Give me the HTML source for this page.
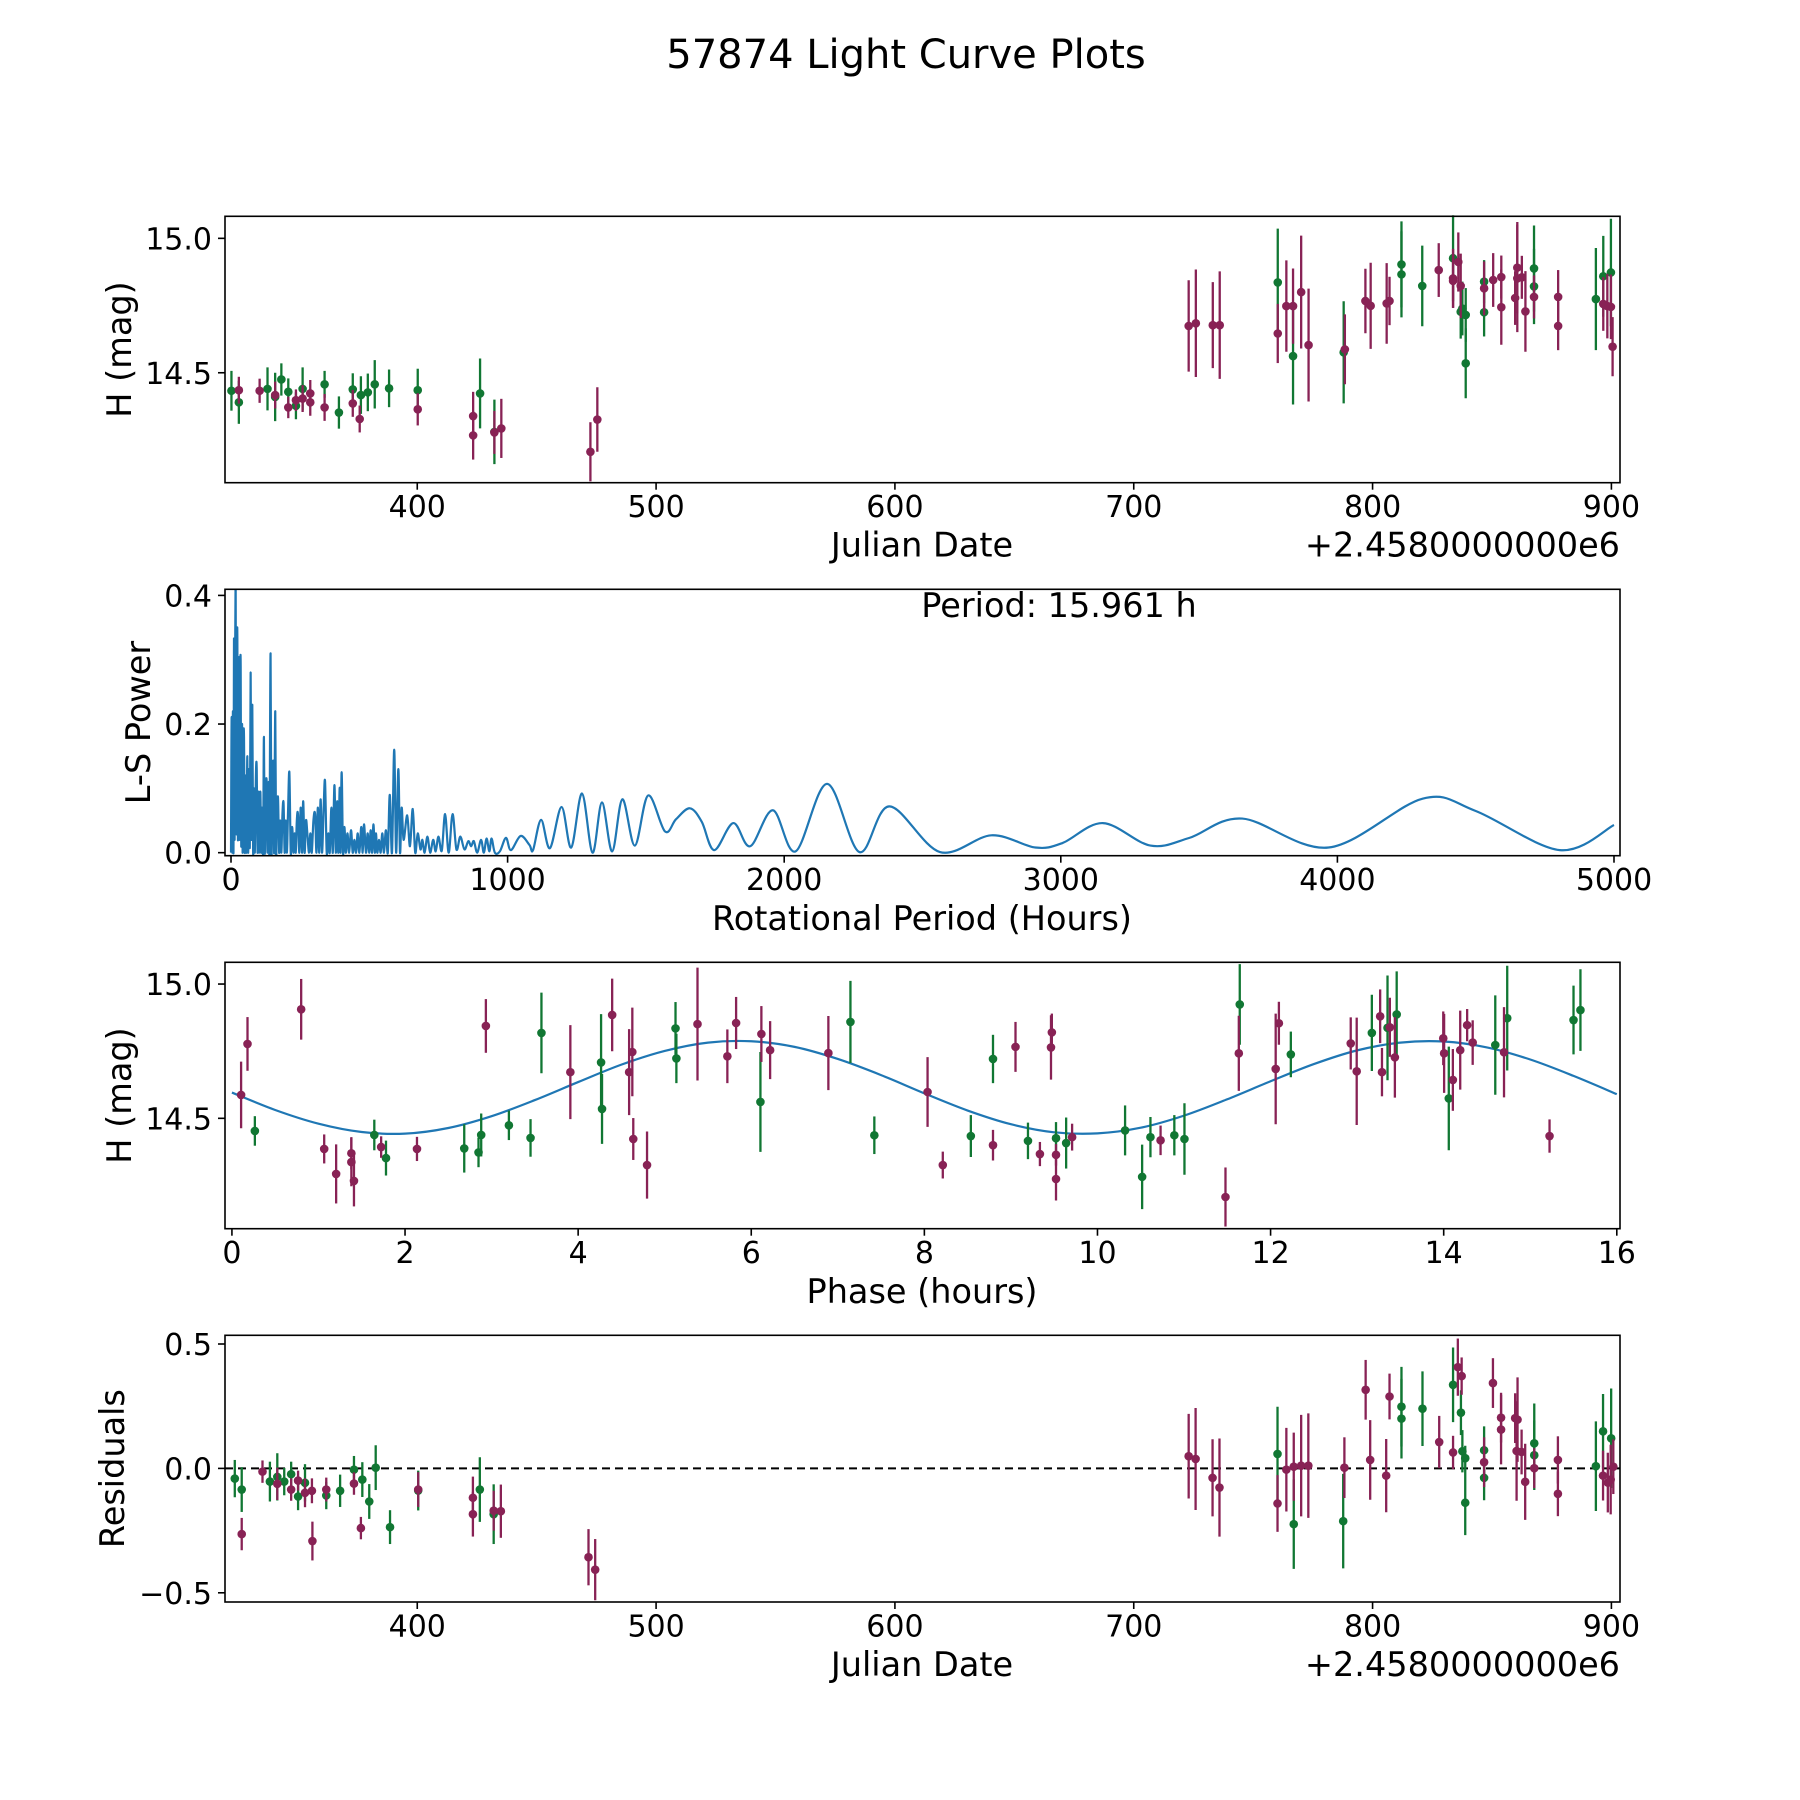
<!DOCTYPE html>
<html><head><meta charset="utf-8"><title>57874 Light Curve Plots</title>
<style>
html,body{margin:0;padding:0;background:#fff;}
svg{display:block;font-family:"DejaVu Sans","Liberation Sans",sans-serif;}
</style></head>
<body>
<svg id="fig" xmlns="http://www.w3.org/2000/svg" width="1800" height="1800" viewBox="0 0 1800 1800">
<rect x="0" y="0" width="1800" height="1800" fill="#fff"/>
<text x="906" y="68" font-size="40" text-anchor="middle">57874 Light Curve Plots</text>
</svg>
<script>
// ---------- Panel 1: light curve vs Julian Date ----------
const p1GreenDate=[322.2,325.3,337.3,340.5,343.1,346,349.2,352,361.2,367.2,373,376.4,379.3,382.2,388.2,400.2,426.3,432.3,760.3,766.7,787.9,812.1,812.1,820.8,833.7,837.6,836.9,839,839,846.7,846.7,867.6,867.6,893.5,896.6,899.8];
const p1GreenMag=[14.433,14.39,14.44,14.41,14.475,14.429,14.377,14.44,14.457,14.352,14.438,14.417,14.427,14.457,14.442,14.435,14.423,14.28,14.836,14.562,14.576,14.903,14.866,14.823,14.926,14.739,14.727,14.715,14.535,14.839,14.725,14.888,14.821,14.774,14.859,14.873];
const p1GreenErr=[.074,.08,.08,.09,.06,.05,.05,.08,.05,.06,.06,.07,.07,.09,.07,.08,.13,.12,.2,.18,.19,.16,.16,.15,.16,.1,.1,.1,.13,.08,.09,.16,.14,.19,.15,.2];
const p1MaroonDate=[325.3,334,340.5,346,349.2,352,355.2,355.2,361.2,373,375.9,400.2,423.4,423.4,432.3,435.2,472.5,475.4,723,726,733.1,736,760.3,763.9,766.7,770.1,773.2,788.4,797,799.2,805.9,807.1,827.7,833.7,833.7,835.9,836.9,846.7,850.5,853.9,853.9,859.7,860.6,860.6,862.5,864,867.6,877.7,877.7,896.6,898.3,899.8,900.5];
const p1MaroonMag=[14.435,14.433,14.417,14.371,14.398,14.404,14.423,14.39,14.371,14.386,14.328,14.364,14.339,14.267,14.278,14.293,14.206,14.326,14.674,14.684,14.677,14.677,14.646,14.748,14.748,14.8,14.603,14.587,14.767,14.749,14.758,14.767,14.882,14.851,14.842,14.912,14.823,14.814,14.845,14.856,14.744,14.778,14.891,14.851,14.855,14.728,14.782,14.782,14.674,14.756,14.748,14.745,14.597];
const p1MaroonErr=[.05,.045,.05,.04,.04,.05,.05,.05,.05,.05,.05,.06,.09,.09,.08,.11,.11,.12,.17,.2,.16,.2,.11,.17,.14,.21,.21,.13,.12,.16,.15,.09,.1,.11,.1,.11,.12,.1,.1,.08,.14,.1,.17,.2,.08,.15,.08,.1,.09,.1,.12,.12,.11];
const p1XTicks=[400,500,600,700,800,900];
const p1YTicks=[14.5,15.0];
const p1YTickLabels=["14.5","15.0"];

// ---------- Panel 2: Lomb-Scargle periodogram ----------
const lsPeriod=[
0,2.4,5,7,9,10.8,13,15,16.9,19,
21,23,25,27,29,31,33,35,37,40,
42,44,47,50,53,56,59,62,65,68,
71,74,77,80,83,86,90,93,96,99,
102,106,109,112,116,119,122,125,129,132,
136,139,143,146,149,153,156,160,163,166,
170,174,178,182,186,190,194,198,202,206,
211,216,221,226,230,234,238,242,247,252,
257,261,266,271,276,282,287,292,298,304,
309,314,319,324,329,335,340,346,352,357,
363,368,374,379,384,388,393,396,400,405,
410,415,421,427,434,440,446,452,458,464,
471,476,481,488,494,500,505,510,515,520,
524,529,535,541,547,553,560,567,574,582,
590,597,605,611,617,624,637,647,657,666,
675,685,692,700,710,720,731,740,750,762,
774,787,801,815,829,844,858,868,878,890,
904,914,924,934,942,954,972,994,1012,1047,
1079,1092,1121,1153,1195,1230,1269,1307,1341,1378,
1415,1460,1508,1569,1609,1659,1702,1747,1816,1877,
1959,2041,2155,2272,2380,2563,2749,2908,3006,3152,
3324,3465,3656,3968,4308,4499,4804,5000];
const lsPower=[
0,.211,0,.22,0,.333,.02,.3,.41,.03,
.28,.333,.02,.24,.29,.02,.25,.29,.01,.2,
0,.16,.18,0,.12,0,.15,0,.13,.01,
.28,.02,.23,0,.1,0,.12,.13,0,.095,
0,.095,0,.07,0,.18,0,.09,.11,0,
.11,0,.31,0,.09,.14,0,.22,0,.06,
.085,0,.05,0,.06,.077,0,.05,0,.06,
.125,0,.04,0,.03,0,.05,.06,0,.07,
0,.08,0,.05,.03,0,.03,0,.05,.06,
0,.07,0,.083,0,.07,.111,0,.03,0,
.07,0,.105,0,.08,0,.101,0,.125,0,
.04,0,.03,0,.035,0,.02,0,.03,0,
.04,0,.044,0,.03,0,.035,0,.044,0,
.03,0,.02,0,.03,0,.035,0,.09,0,
.16,0,.13,0,.07,.02,.058,.01,.068,0,
.03,.005,.02,0,.025,0,.02,.002,.025,.003,
.06,0,.06,.005,.025,.005,.018,.01,.018,0,
.02,0,.022,.002,.022,0,.002,.023,.004,.026,
.012,.004,.051,.007,.071,.008,.092,0,.078,.002,
.083,.011,.089,.033,.052,.069,.048,.004,.046,.01,
.066,.002,.107,.001,.072,.001,.027,.008,.015,.046,
.011,.023,.053,.008,.084,.065,.004,.043];
const p2XTicks=[0,1000,2000,3000,4000,5000];
const p2YTicks=[0.0,0.2,0.4];
const p2YTickLabels=["0.0","0.2","0.4"];
const bestPeriodLabel=["Period: 15.961 h"];

// ---------- Panel 3: phased light curve ----------
const p3GreenPhase=[0.265,1.645,1.78,2.684,2.849,2.88,3.2,3.45,3.576,4.265,4.276,5.125,5.135,6.106,7.146,7.422,8.537,8.793,9.197,9.521,9.638,10.319,10.516,10.612,10.888,11.005,11.644,12.234,13.17,13.351,13.457,14.059,14.596,14.734,15.5,15.58];
const p3GreenMag=[14.453,14.438,14.352,14.388,14.373,14.438,14.474,14.427,14.818,14.708,14.535,14.835,14.723,14.561,14.859,14.437,14.434,14.721,14.416,14.426,14.408,14.455,14.282,14.43,14.437,14.423,14.924,14.738,14.818,14.837,14.887,14.574,14.773,14.873,14.866,14.903];
const p3GreenErr=[.055,.057,.065,.09,.055,.08,.055,.07,.15,.18,.13,.098,.092,.186,.153,.07,.078,.09,.068,.06,.095,.093,.12,.075,.075,.133,.15,.085,.142,.195,.16,.193,.185,.195,.128,.152];
const p3MaroonPhase=[0.106,0.18,0.80,1.066,1.204,1.38,1.38,1.41,1.724,2.138,2.934,3.91,4.393,4.589,4.626,4.637,4.796,5.379,5.724,5.825,6.117,6.218,6.891,8.037,8.213,8.793,9.053,9.335,9.463,9.473,9.521,9.521,9.707,10.729,11.479,11.633,12.059,12.096,12.926,12.995,13.266,13.287,13.378,13.436,13.995,14.005,14.106,14.191,14.271,14.335,14.697,15.223];
const p3MaroonMag=[14.587,14.777,14.906,14.386,14.293,14.37,14.337,14.267,14.393,14.386,14.844,14.672,14.885,14.672,14.747,14.423,14.326,14.851,14.731,14.855,14.814,14.754,14.743,14.598,14.326,14.4,14.766,14.367,14.764,14.82,14.364,14.274,14.43,14.418,14.207,14.742,14.684,14.854,14.779,14.675,14.88,14.672,14.839,14.727,14.798,14.742,14.643,14.754,14.847,14.782,14.746,14.434];
const p3MaroonErr=[.124,.1,.113,.054,.11,.06,.09,.095,.04,.045,.1,.175,.135,.16,.165,.078,.125,.21,.1,.097,.104,.108,.138,.13,.05,.057,.093,.045,.12,.07,.04,.08,.05,.055,.11,.14,.206,.08,.097,.2,.1,.09,.11,.15,.1,.147,.115,.147,.06,.083,.168,.062];
const modelPhase=[0,0.5,1,1.5,2,2.5,3,3.5,4,4.5,5,5.5,6,6.5,7,7.5,8,8.5,9,9.5,10,10.5,11,11.5,12,12.5,13,13.5,14,14.5,15,15.5,16];
const modelMag=[14.596,14.531,14.480,14.449,14.443,14.464,14.508,14.568,14.635,14.700,14.751,14.782,14.787,14.766,14.721,14.661,14.593,14.529,14.478,14.448,14.444,14.465,14.510,14.571,14.638,14.702,14.753,14.782,14.786,14.764,14.719,14.658,14.590];
const p3XTicks=[0,2,4,6,8,10,12,14,16];
const p3YTicks=[14.5,15.0];
const p3YTickLabels=["14.5","15.0"];

// ---------- Panel 4: residuals ----------
const p4GreenDate=[323.6,326.5,338.3,341.4,344.3,347.2,350.1,353,361.9,367.7,373.5,377,379.9,382.6,388.6,400.4,426.2,432,760.2,767,787.7,812.1,812.1,820.9,833.7,837,837.6,838.8,838.8,846.7,846.7,867.7,867.7,893.5,896.5,899.9];
const p4GreenRes=[-0.041,-0.085,-0.053,-0.034,-0.053,-0.023,-0.113,-0.058,-0.109,-0.09,-0.005,-0.045,-0.133,0.003,-0.236,-0.089,-0.085,-0.184,0.058,-0.224,-0.212,0.248,0.2,0.24,0.336,0.224,0.069,0.041,-0.138,0.073,-0.038,0.101,0.053,0.009,0.149,0.121];
const p4GreenErr=[.075,.09,.08,.095,.055,.05,.055,.075,.055,.065,.055,.07,.07,.09,.068,.08,.13,.12,.19,.18,.19,.16,.16,.15,.15,.09,.085,.05,.13,.096,.09,.16,.14,.18,.15,.2];
const p4MaroonDate=[326.5,335.2,341.4,347.2,350.1,353,355.9,356.1,361.9,373.5,376.4,400.4,423.3,423.3,432,435,471.7,474.5,723,725.9,733,735.9,760.2,763.9,767,770.1,773.1,788.2,797.1,799,805.7,807.1,827.9,833.7,835.7,837.3,846.7,850.4,853.8,853.8,859.7,860.7,860.3,862.4,863.9,867.7,877.6,877.6,896.5,898.5,899.7,900.8];
const p4MaroonRes=[-0.264,-0.013,-0.062,-0.085,-0.049,-0.098,-0.09,-0.292,-0.085,-0.061,-0.24,-0.085,-0.118,-0.184,-0.17,-0.172,-0.357,-0.407,0.049,0.038,-0.038,-0.077,-0.141,-0.005,0.007,0.011,0.011,0.003,0.316,0.034,-0.029,0.289,0.106,0.064,0.407,0.371,0.025,0.343,0.204,0.156,0.202,0.196,0.07,0.066,-0.054,0.001,0.034,-0.102,-0.029,-0.057,-0.045,0.007];
const p4MaroonErr=[.065,.045,.065,.045,.04,.058,.05,.078,.048,.045,.045,.07,.085,.09,.08,.107,.113,.123,.17,.205,.155,.197,.114,.168,.137,.204,.21,.122,.12,.16,.147,.092,.105,.067,.115,.075,.1,.1,.1,.14,.1,.17,.2,.09,.153,.08,.095,.09,.1,.12,.14,.11];
const p4XTicks=[400,500,600,700,800,900];
const p4YTicks=[-0.5,0.0,0.5];
const p4YTickLabels=["\u22120.5","0.0","0.5"];

const GREEN="#117733", MAROON="#882255", BLUE="#1f77b4";
const NS="http://www.w3.org/2000/svg";
const svg=document.getElementById('fig');
function mk(tag,attrs,parent){const e=document.createElementNS(NS,tag);for(const k in attrs)e.setAttribute(k,attrs[k]);(parent||svg).appendChild(e);return e;}
function scale(d0,d1,r0,r1){return v=>r0+(v-d0)*(r1-r0)/(d1-d0);}

function makeAxes(name,box,xd,yd){
  const g=mk('g',{});
  
  
  const sx=scale(xd[0],xd[1],box.l,box.r), sy=scale(yd[0],yd[1],box.b,box.t);
  return {g,sx,sy,box};
}
function frame(ax){
  const b=ax.box;
  const r=mk('rect',{x:b.l,y:b.t,width:b.r-b.l,height:b.b-b.t,fill:'none',stroke:'#000','stroke-width':1.6},ax.g);
  
  
}
function xTicks(ax,ticks,labels,name){
  const gg=mk('g',{},ax.g);
  
  
  ticks.forEach((t,i)=>{
    const x=ax.sx(t);
    mk('line',{x1:x,x2:x,y1:ax.box.b,y2:ax.box.b+7,stroke:'#000','stroke-width':1.6},gg);
    const tx=mk('text',{x:x,y:ax.box.b+34.5,'font-size':30,'text-anchor':'middle'},gg);
    tx.textContent=labels[i];
    
    
  });
}
function yTicks(ax,ticks,labels,name){
  const gg=mk('g',{},ax.g);
  
  
  ticks.forEach((t,i)=>{
    const y=ax.sy(t);
    mk('line',{x1:ax.box.l-7,x2:ax.box.l,y1:y,y2:y,stroke:'#000','stroke-width':1.6},gg);
    const tx=mk('text',{x:ax.box.l-13,y:y+11,'font-size':30,'text-anchor':'end'},gg);
    tx.textContent=labels[i];
    
    
  });
}
function label(ax,txt,x,y,rot,name,extra){
  const a={x:x,y:y,'font-size':33.5,'text-anchor':'middle'};
  if(rot)a.transform='rotate(-90 '+x+' '+y+')';
  Object.assign(a,extra||{});
  const t=mk('text',a,ax.g);
  t.textContent=txt;
  
  
  return t;
}
function errSeries(ax,xs,ys,es,color,name){
  const gg=mk('g',{},ax.g);
  
  
  for(let i=0;i<xs.length;i++){
    const x=ax.sx(xs[i]);
    const ln=mk('line',{x1:x,x2:x,y1:ax.sy(ys[i]-es[i]),y2:ax.sy(ys[i]+es[i]),stroke:color,'stroke-width':2.3},gg);
    
    
  }
  for(let i=0;i<xs.length;i++){
    const c=mk('circle',{cx:ax.sx(xs[i]),cy:ax.sy(ys[i]),r:4.3,fill:color},gg);
    
    
  }
}
function smoothPath(pts){
  let d='M'+pts[0][0].toFixed(2)+','+pts[0][1].toFixed(2);
  for(let i=0;i<pts.length-1;i++){
    const p0=pts[Math.max(0,i-1)],p1=pts[i],p2=pts[i+1],p3=pts[Math.min(pts.length-1,i+2)];
    const c1=[p1[0]+(p2[0]-p0[0])/6,p1[1]+(p2[1]-p0[1])/6];
    const c2=[p2[0]-(p3[0]-p1[0])/6,p2[1]-(p3[1]-p1[1])/6];
    d+=' C'+c1[0].toFixed(2)+','+c1[1].toFixed(2)+' '+c2[0].toFixed(2)+','+c2[1].toFixed(2)+' '+p2[0].toFixed(2)+','+p2[1].toFixed(2);
  }
  return d;
}
function clip(ax,id){
  const cp=mk('clipPath',{id:id},ax.g);
  mk('rect',{x:ax.box.l,y:ax.box.t,width:ax.box.r-ax.box.l,height:ax.box.b-ax.box.t},cp);
  return 'url(#'+id+')';
}
const fmt0=v=>String(v);

// Panel 1
const ax1=makeAxes('light-curve-panel',{l:225,r:1620,t:216.3,b:482.7},[319.5,903.6],[14.091,15.082]);
errSeries(ax1,p1GreenDate,p1GreenMag,p1GreenErr,GREEN,'green-series');
errSeries(ax1,p1MaroonDate,p1MaroonMag,p1MaroonErr,MAROON,'maroon-series');
frame(ax1);
xTicks(ax1,p1XTicks,p1XTicks.map(fmt0),'x-axis-ticks');
yTicks(ax1,p1YTicks,p1YTickLabels,'y-axis-ticks');
label(ax1,'Julian Date',922,556.7,false,'x-axis-title');
label(ax1,'+2.4580000000e6',1620,556.7,false,'x-axis-offset',{'text-anchor':'end'});
label(ax1,'H (mag)',131,349.5,true,'y-axis-title');

// Panel 2
const ax2=makeAxes('periodogram-panel',{l:225,r:1620,t:589.3,b:855.7},[-21.7,5021.7],[-0.0047,0.4095]);
const cp2=clip(ax2,'clip2');
const lsPts=lsPeriod.map((p,i)=>[ax2.sx(p),ax2.sy(lsPower[i])]);
const lsLine=mk('path',{d:smoothPath(lsPts),fill:'none',stroke:BLUE,'stroke-width':2.2,'stroke-linejoin':'round','clip-path':cp2},ax2.g);


frame(ax2);
xTicks(ax2,p2XTicks,p2XTicks.map(fmt0),'x-axis-ticks');
yTicks(ax2,p2YTicks,p2YTickLabels,'y-axis-ticks');
label(ax2,'Rotational Period (Hours)',922,930,false,'x-axis-title');
label(ax2,'L-S Power',150,722.5,true,'y-axis-title');
label(ax2,bestPeriodLabel[0],1059,617,false,'period-annotation');

// Panel 3
const ax3=makeAxes('phased-curve-panel',{l:225,r:1620,t:962.3,b:1228.7},[-0.08,16.037],[14.089,15.081]);
const modelPts=modelPhase.map((p,i)=>[ax3.sx(p),ax3.sy(modelMag[i])]);
const mline=mk('path',{d:smoothPath(modelPts),fill:'none',stroke:BLUE,'stroke-width':2.2},ax3.g);


errSeries(ax3,p3GreenPhase,p3GreenMag,p3GreenErr,GREEN,'green-series');
errSeries(ax3,p3MaroonPhase,p3MaroonMag,p3MaroonErr,MAROON,'maroon-series');
frame(ax3);
xTicks(ax3,p3XTicks,p3XTicks.map(fmt0),'x-axis-ticks');
yTicks(ax3,p3YTicks,p3YTickLabels,'y-axis-ticks');
label(ax3,'Phase (hours)',922,1303,false,'x-axis-title');
label(ax3,'H (mag)',131,1095.5,true,'y-axis-title');

// Panel 4
const ax4=makeAxes('residuals-panel',{l:225,r:1620,t:1335.3,b:1602},[319.5,903.6],[-0.537,0.535]);
const zl=mk('line',{x1:ax4.box.l,x2:ax4.box.r,y1:ax4.sy(0),y2:ax4.sy(0),stroke:'#000','stroke-width':2,'stroke-dasharray':'8,5'},ax4.g);


errSeries(ax4,p4GreenDate,p4GreenRes,p4GreenErr,GREEN,'green-series');
errSeries(ax4,p4MaroonDate,p4MaroonRes,p4MaroonErr,MAROON,'maroon-series');
frame(ax4);
xTicks(ax4,p4XTicks,p4XTicks.map(fmt0),'x-axis-ticks');
yTicks(ax4,p4YTicks,p4YTickLabels,'y-axis-ticks');
label(ax4,'Julian Date',922,1676,false,'x-axis-title');
label(ax4,'+2.4580000000e6',1620,1676,false,'x-axis-offset',{'text-anchor':'end'});
label(ax4,'Residuals',124,1468.6,true,'y-axis-title');
</script>
</body></html>
